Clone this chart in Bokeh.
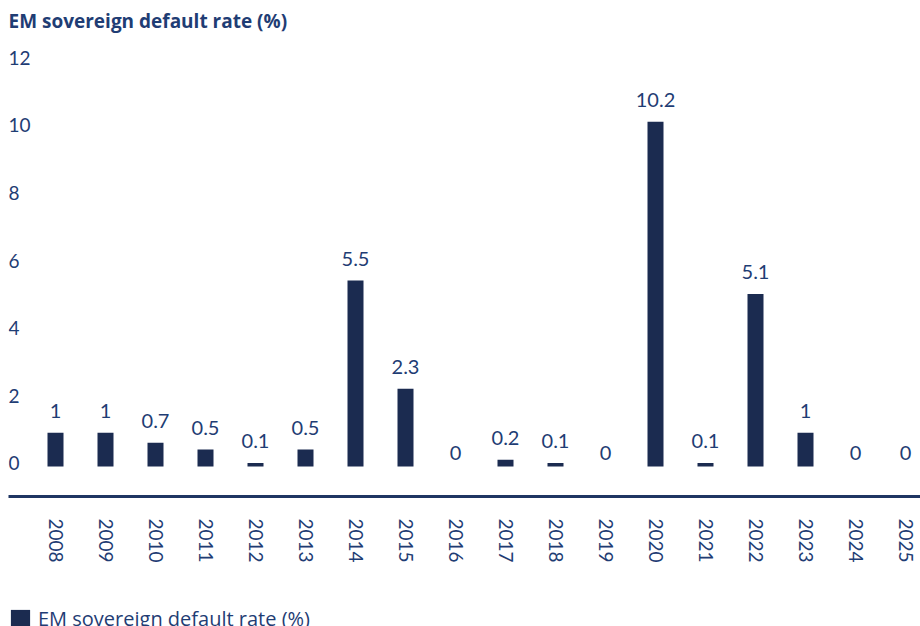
import math
from bokeh.plotting import figure
from bokeh.layouts import column
from bokeh.models import ColumnDataSource, Range1d, FixedTicker, Label, Legend, LegendItem
from bokeh.core.properties import value
from bokeh.embed import file_html
from bokeh.resources import INLINE

years = [2008, 2009, 2010, 2011, 2012, 2013, 2014, 2015, 2016, 2017,
         2018, 2019, 2020, 2021, 2022, 2023, 2024, 2025]
default_rate = [1, 1, 0.7, 0.5, 0.1, 0.5, 5.5, 2.3, 0, 0.2,
                0.1, 0, 10.2, 0.1, 5.1, 1, 0, 0]
y_ticks = [0, 2, 4, 6, 8, 10, 12]
title_text = "EM sovereign default rate (%)"
series_name = "EM sovereign default rate (%)"

FONT = "Lato"
FONT2 = "Open Sans"
BAR = "#1b2b50"
TXT = "#1f3d74"

labels = [("%g" % v) for v in default_rate]
offsets = [-22 if v > 0 else -13 for v in default_rate]
src = ColumnDataSource(dict(x=years, y=default_rate, lab=labels, off=offsets))

# main chart: frame spans from the top of the canvas down to the axis line
p = figure(width=920, height=605, output_backend="svg", toolbar_location=None,
           x_range=Range1d(2007.06, 2025.3), y_range=Range1d(-0.888, 13.787),
           min_border_left=8, min_border_right=0, min_border_top=0,
           min_border_bottom=109)
p.outline_line_color = None
p.xgrid.visible = False
p.ygrid.visible = False
p.yaxis.visible = False

bars = p.vbar(x="x", top="y", width=0.32, bottom=0, source=src,
              fill_color=BAR, line_color=None)

p.text(x="x", y="y", text="lab", source=src, y_offset="off",
       text_align="center", text_baseline="alphabetic",
       text_font=value(FONT), text_font_size="20px", text_color=TXT)

ax = p.xaxis[0]
ax.ticker = FixedTicker(ticks=years)
ax.major_label_orientation = -math.pi / 2
ax.major_label_standoff = 16
ax.major_tick_line_color = None
ax.minor_tick_line_color = None
ax.axis_line_color = "#1f3562"
ax.axis_line_width = 3
ax.major_label_text_font = FONT
ax.major_label_text_font_size = "19px"
ax.major_label_text_color = TXT

for t in y_ticks:
    p.add_layout(Label(x=0, x_units="screen", y=t, y_units="data", y_offset=3,
                       text=str(t), text_align="left", text_baseline="middle",
                       text_font=FONT, text_font_size="19px", text_color=TXT))

p.add_layout(Label(x=0, x_units="screen", y=476, y_units="screen",
                   text=title_text, text_align="left", text_baseline="middle",
                   text_font=FONT2, text_font_size="19px", text_font_style="bold",
                   text_color=TXT))

# legend strip below the chart (its bars fall outside this strip's ranges)
p2 = figure(width=920, height=21, output_backend="svg", toolbar_location=None,
            x_range=Range1d(0, 1), y_range=Range1d(0, 1),
            min_border_left=5, min_border_right=0, min_border_top=0,
            min_border_bottom=0)
p2.outline_line_color = None
p2.xgrid.visible = False
p2.ygrid.visible = False
p2.xaxis.visible = False
p2.yaxis.visible = False
key = p2.vbar(x="x", top="y", width=0.32, bottom=0, source=src,
              fill_color=BAR, line_color=None)
legend = Legend(items=[LegendItem(label=series_name, renderers=[key])],
                location="top_left", padding=0, margin=0,
                glyph_width=24, glyph_height=24, label_standoff=6,
                label_text_font=FONT2, label_text_font_size="20px",
                label_text_color=TXT, border_line_color=None,
                background_fill_alpha=0)
p2.add_layout(legend, "center")

open("out.html", "w").write(file_html(column(p, p2, spacing=0), INLINE))
